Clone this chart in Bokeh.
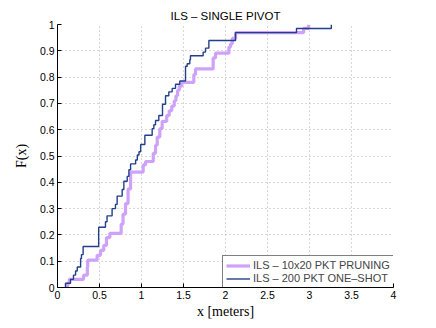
from bokeh.plotting import figure
from bokeh.models import Range1d, FixedTicker, CustomJSTickFormatter
from bokeh.embed import file_html
from bokeh.resources import INLINE

title_text = "ILS – SINGLE PIVOT"
x_label = "x [meters]"
y_label = "F(x)"
series_names = ["ILS – 10x20 PKT PRUNING", "ILS – 200 PKT ONE–SHOT"]

x_ticks = [0, 0.5, 1, 1.5, 2, 2.5, 3, 3.5, 4]
y_ticks = [0, 0.1, 0.2, 0.3, 0.4, 0.5, 0.6, 0.7, 0.8, 0.9, 1.0]

# 10x20 PKT PRUNING (step CDF): jump positions and levels after the jump
prune_x = [0.12, 0.12, 0.14, 0.31, 0.355, 0.36, 0.472, 0.512, 0.55, 0.583, 0.623,
           0.758, 0.78, 0.81, 0.84, 0.87, 1.02, 1.048, 1.14, 1.167, 1.187, 1.218,
           1.246, 1.30, 1.33, 1.36, 1.39, 1.41, 1.43, 1.45, 1.48, 1.623, 1.643,
           1.853, 1.881, 2.04, 2.06, 2.08, 2.12, 2.93, 2.99]
prune_y = [0.0, 0.016, 0.031, 0.047, 0.078, 0.104, 0.1225, 0.141, 0.16, 0.19, 0.206,
           0.241, 0.279, 0.319, 0.375, 0.439, 0.466, 0.479, 0.51, 0.541, 0.572, 0.604,
           0.632, 0.654, 0.672, 0.69, 0.71, 0.729, 0.75, 0.766, 0.78, 0.81, 0.831,
           0.873, 0.891, 0.914, 0.926, 0.947, 0.969, 0.985, 1.0]

# 200 PKT ONE-SHOT
shot_x = [0.095, 0.095, 0.155, 0.19, 0.215, 0.235, 0.275, 0.285, 0.305, 0.49, 0.571,
          0.59, 0.65, 0.69, 0.71, 0.77, 0.79, 0.83, 0.85, 0.87, 0.93, 0.95, 0.97,
          0.99, 1.04, 1.127, 1.147, 1.167, 1.206, 1.25, 1.286, 1.325, 1.365, 1.405,
          1.456, 1.524, 1.544, 1.575, 1.583, 1.734, 1.762, 1.802, 2.119, 2.845, 3.26]
shot_y = [0.0, 0.016, 0.031, 0.047, 0.063, 0.078, 0.11, 0.125, 0.156, 0.229, 0.25,
          0.2725, 0.30, 0.316, 0.3475, 0.3725, 0.404, 0.4225, 0.4475, 0.47, 0.485,
          0.504, 0.516, 0.544, 0.579, 0.604, 0.619, 0.635, 0.654, 0.697, 0.729,
          0.744, 0.757, 0.773, 0.785, 0.841, 0.851, 0.866, 0.881, 0.895, 0.910,
          0.939, 0.969, 0.985, 1.0]

p = figure(width=420, height=321, output_backend="svg", toolbar_location=None,
           x_range=Range1d(0, 4), y_range=Range1d(0, 1),
           min_border_left=57, min_border_right=27, min_border_top=24,
           min_border_bottom=30, title=title_text)

p.title.align = "center"
p.title.text_font = "Liberation Sans"
p.title.text_font_size = "11.5px"
p.title.text_font_style = "normal"
p.title.standoff = 6
p.title.text_color = "#000000"

p.outline_line_color = None
p.background_fill_color = "white"
p.border_fill_color = "white"

fmt = CustomJSTickFormatter(code="return String(Math.round(tick*10)/10);")
for ax, ticks in ((p.xaxis[0], x_ticks), (p.yaxis[0], y_ticks)):
    ax.ticker = FixedTicker(ticks=ticks)
    ax.formatter = fmt
    ax.major_tick_in = 4
    ax.major_tick_out = 0
    ax.minor_tick_line_color = None
    ax.axis_line_color = "#000000"
    ax.major_tick_line_color = "#000000"
    ax.major_label_text_font = "Liberation Sans"
    ax.major_label_text_font_size = "10.5px"
    ax.major_label_text_color = "#000000"
    ax.axis_label_text_font = "Liberation Serif"
    ax.axis_label_text_font_size = "14px"
    ax.axis_label_text_font_style = "normal"
    ax.axis_label_text_color = "#000000"

p.xaxis.axis_label = x_label
p.yaxis.axis_label = y_label
p.xaxis.major_label_standoff = 3
p.yaxis.major_label_standoff = 3
p.xaxis.axis_label_standoff = 2
p.yaxis.axis_label_standoff = 8

for g in (p.xgrid[0], p.ygrid[0]):
    g.grid_line_color = "#b0b0b0"
    g.grid_line_dash = "1 3"
    g.grid_line_width = 1

p.step(prune_x, prune_y, mode="after", line_color="#cfa2fa", line_width=3.2,
       legend_label=series_names[0])
p.step(shot_x, shot_y, mode="after", line_color="#233f8b", line_width=1.4,
       legend_label=series_names[1])

lg = p.legend[0]
lg.location = (165, -1)
lg.border_line_color = "#000000"
lg.border_line_width = 1
lg.background_fill_color = "white"
lg.background_fill_alpha = 1
lg.label_text_font = "Liberation Sans"
lg.label_text_font_size = "11px"
lg.glyph_width = 24
lg.glyph_height = 11
lg.label_height = 11
lg.label_standoff = 3
lg.spacing = 1
lg.padding = 3
lg.margin = 0

open("out.html", "w").write(file_html(p, INLINE))
